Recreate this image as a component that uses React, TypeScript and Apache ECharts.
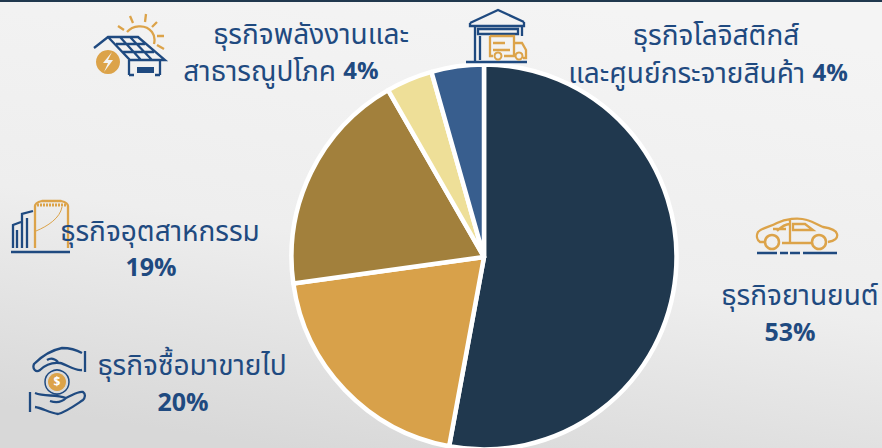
import React, { useEffect, useRef } from "react";
import * as echarts from "echarts";

const categories = ["ธุรกิจยานยนต์", "ธุรกิจซื้อมาขายไป", "ธุรกิจอุตสาหกรรม", "ธุรกิจพลังงานและสาธารณูปโภค", "ธุรกิจโลจิสติกส์และศูนย์กระจายสินค้า"];
const values = [52.9, 19.9, 18.9, 3.9, 4.4];
const colors = ["#20384e", "#d8a14a", "#a2803c", "#eedf98", "#385e8e"];

const BLUE = "#1f4a80";
const GOLD = "#dca349";
const FONT = "'Noto Sans Thai', 'Noto Sans', 'DejaVu Sans', sans-serif";

const blueIcons =
  "M94 48L108 37H138L165 60H130L108 37M116 44H145M122 52H154M120 37L141 60M130 37L152 60M129 60V75M160 60V75M129 75H134M155 75H160" +
  "M470 23L498 10L524 22M470 23V26H524V22M475 26V61M522 26V36M478 29H518V34H478ZM480 36V60" +
  "M11 252H70M13 248V225L21 222M17 248V230M22 248V214L33 211M27 248V218" +
  "M757 253H777M780 253H788M790 253H800M803 253H837" +
  "M466 62H527" +
  "M85 351V372M82 353C75 349 68 348 62 348C52 350 42 356 34 364C32 369 36 373 40 370C46 364 52 362 60 363C66 364 74 371 82 370M58 362C54 358 50 358 47 360" +
  "M30 392V412M35 393C45 397 55 394 66 398C73 395 78 391 83 392C86 394 85 398 83 400C74 406 66 412 58 414C50 413 42 408 35 407M50 401C56 403 62 402 66 398";
const goldIcons =
  "M127 32C132 26 145 23 152 32C155 36 155 40 154 44M118 26L124 30M130 16L133 23M146 14L145 22M157 22L152 27M164 36L157 36M164 49L157 45" +
  "M490 36H514V56H504M490 36V56H493M514 43H522L526 50V58H523M504 56H514M493 50H510M493 43H505" +
  "M35 248V206C35 203 38 202 42 201H61C65 202 68 203 68 206V248" +
  "M766 242H760C757 240 756 236 758 232C763 227 770 227 777 223C785 219 798 217 807 220C814 222 818 225 823 227C830 228 836 230 837 234C838 238 835 241 828 242M782 243H812M790 219V243M777 231C782 226 787 224 790 224M793 224H805L813 230H793ZM773 229H786";
const thinGold = "M36 231C48 226 60 218 62 207";

echarts.graphic.registerShape("blueIcons", echarts.graphic.extendPath(blueIcons, {}));
echarts.graphic.registerShape("goldIcons", echarts.graphic.extendPath(goldIcons, {}));
echarts.graphic.registerShape("thinGold", echarts.graphic.extendPath(thinGold, {}));

const txt = (x: number, y: number, text: string, extra: object = {}) => ({
  type: "text", x, y, z: 10,
  style: { text, fontFamily: FONT, fontSize: 28, lineHeight: 30, fill: BLUE, align: "center", verticalAlign: "middle", ...extra },
});
const bold = { fontWeight: "bold", fontSize: 25 };
const rich = {
  a: { fontFamily: FONT, fontSize: 28, lineHeight: 30, fill: BLUE },
  b: { fontFamily: FONT, fontSize: 24, lineHeight: 30, fill: BLUE, fontWeight: "bold" },
};
const ring = (cx: number, cy: number, r: number, stroke: string, fill = "none", lineWidth = 2) => ({
  type: "circle", z: 9, shape: { cx, cy, r }, style: { stroke, fill, lineWidth },
});

export default function App() {
  const ref = useRef<HTMLDivElement>(null);
  useEffect(() => {
    const chart = echarts.init(ref.current!, undefined, { renderer: "svg" });
    chart.setOption({
      animation: false,
      backgroundColor: new echarts.graphic.LinearGradient(0.62, 0, 0.32, 1, [
        { offset: 0, color: "#f4f4f4" },
        { offset: 0.55, color: "#eeeeee" },
        { offset: 1, color: "#d8d8d8" },
      ]),
      series: [{
        type: "pie",
        center: [484, 257],
        radius: [0, 192.5],
        startAngle: 90,
        clockwise: true,
        label: { show: false },
        labelLine: { show: false },
        silent: true,
        itemStyle: { borderColor: "#ffffff", borderWidth: 4.5 },
        data: categories.map((name, i) => ({ name, value: values[i], itemStyle: { color: colors[i] } })),
      }],
      graphic: [
        { type: "rect", z: 9, shape: { x: 0, y: 0, width: 882, height: 2 }, style: { fill: "#20384e" } },
        { type: "blueIcons", z: 9, style: { stroke: BLUE, fill: "none", lineWidth: 2.3 } },
        { type: "goldIcons", z: 9, style: { stroke: GOLD, fill: "none", lineWidth: 2.3 } },
        { type: "thinGold", z: 9, style: { stroke: GOLD, fill: "none", lineWidth: 1 } },
        { type: "line", z: 9, shape: { x1: 37, y1: 205, x2: 66, y2: 205 }, style: { stroke: GOLD, lineWidth: 3, lineDash: [2, 1] } },
        { type: "rect", z: 9, shape: { x: 137, y: 67, width: 17, height: 6 }, style: { fill: BLUE } },
        ring(108, 62, 12, GOLD, GOLD, 0),
        { type: "polygon", z: 10, shape: { points: [[112, 52], [103, 63], [108, 63], [104, 72], [113, 60], [108, 60]] }, style: { fill: "#f3f3f3" } },
        ring(498, 56, 3.5, GOLD, "none"),
        ring(519, 56, 3.5, GOLD, "none"),
        ring(772, 242, 7, GOLD, "none", 2.5),
        ring(819, 242, 7, GOLD, "none", 2.5),
        ring(57, 382, 12, BLUE, "none", 1.5),
        ring(57, 382, 9, GOLD, GOLD, 0),
        txt(57, 382, "$", { fontSize: 12, lineHeight: 14, fill: "#ffffff", fontWeight: "bold" }),
        txt(311, 35, "ธุรกิจพลังงานและ"),
        txt(281, 72, "{a|สาธารณูปโภค} {b|4%}", { rich }),
        txt(716, 36, "ธุรกิจโลจิสติกส์"),
        txt(708, 74, "{a|และศูนย์กระจายสินค้า} {b|4%}", { rich }),
        txt(160, 232, "ธุรกิจอุตสาหกรรม"),
        txt(151, 268, "19%", bold),
        txt(192, 366, "ธุรกิจซื้อมาขายไป"),
        txt(183, 403, "20%", bold),
        txt(800, 296, "ธุรกิจยานยนต์"),
        txt(790, 333, "53%", bold),
      ],
    });
    return () => chart.dispose();
  }, []);
  return <div ref={ref} style={{ position: "absolute", left: 0, top: 0, width: 882, height: 448 }} />;
}
